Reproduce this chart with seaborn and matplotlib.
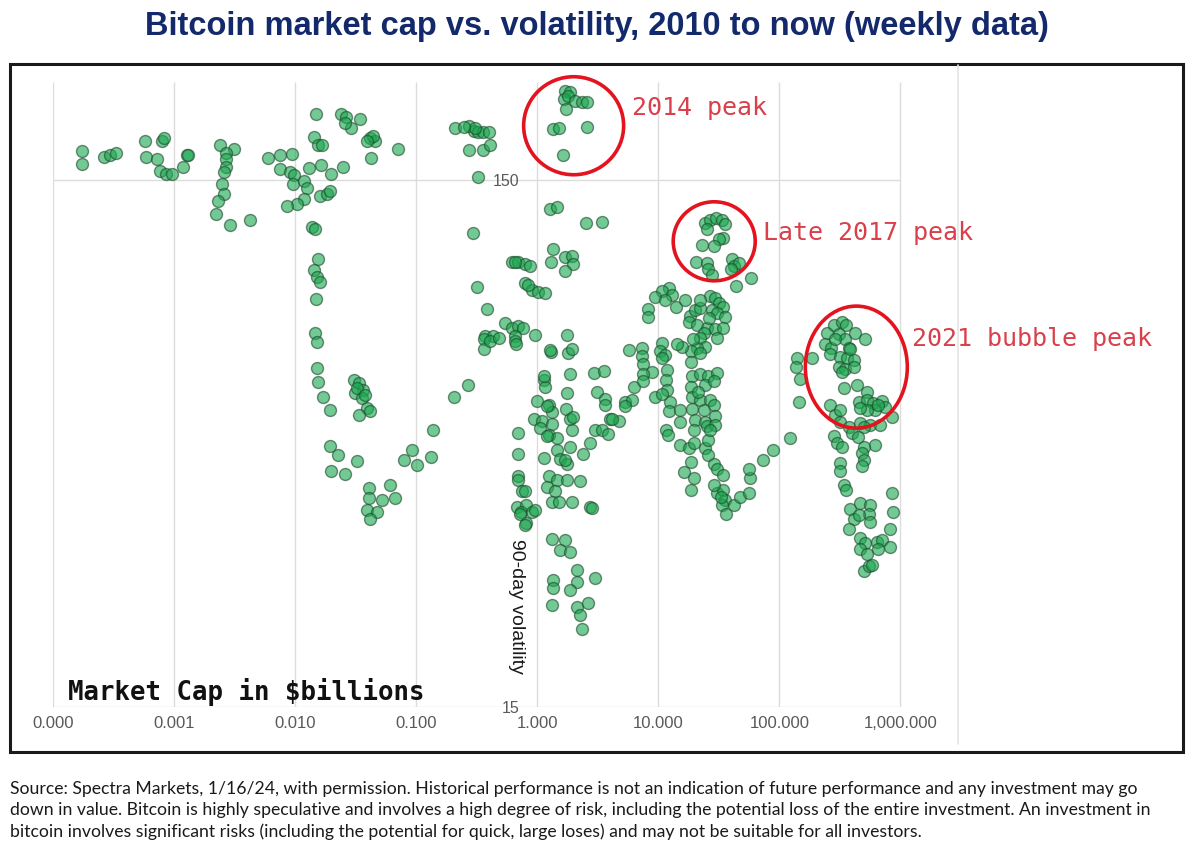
import numpy as np
import pandas as pd
import matplotlib
matplotlib.use('Agg')
import matplotlib.pyplot as plt
import matplotlib.transforms as mtransforms
from matplotlib.patches import Ellipse, Rectangle
from matplotlib.lines import Line2D
from matplotlib.ticker import NullLocator
import seaborn as sns

sns.set_style("white")
plt.rcParams['font.family'] = ['Liberation Sans', 'DejaVu Sans']

# ----------------------------------------------------------------------------
# Data: market cap ($bn) and 90-day volatility (%)
# ----------------------------------------------------------------------------
cap_early = [0.000175, 0.000175, 0.000264, 0.000296, 0.00033, 0.00057, 0.00059, 0.00072,
             0.00079, 0.00083, 0.00076, 0.00086, 0.00096, 0.00119, 0.00127, 0.00131,
             0.0024, 0.0031, 0.0027, 0.0027, 0.0027, 0.0026, 0.0025, 0.0026, 0.0023,
             0.0022, 0.0029, 0.0042, 0.006, 0.0075, 0.0094, 0.0075, 0.0091, 0.0097,
             0.0096, 0.0119, 0.0126, 0.0119, 0.0103, 0.0086, 0.0129, 0.0164, 0.0197,
             0.0251, 0.0161, 0.0183, 0.0195, 0.0149, 0.0144, 0.0156, 0.0166, 0.0238,
             0.0265, 0.0343, 0.0292, 0.026, 0.0412, 0.0458, 0.0427, 0.071, 0.044, 0.039]
vol_early = [170, 161, 166, 167, 169, 178, 166, 164,
             178, 180, 156, 154, 154, 159, 167, 167,
             175, 172, 169, 164, 159, 155, 147, 141, 137,
             129, 123, 126, 165, 167, 168, 157, 155, 153,
             147, 149, 145, 138, 135, 134, 158, 160, 154,
             159, 140, 141, 143, 200, 181, 175, 175, 200,
             197, 196, 188, 192, 180, 178, 165, 172, 182, 178]

cap_slump = [0.0137, 0.0146, 0.0156, 0.0142, 0.0151, 0.0161, 0.0149, 0.0146, 0.0153,
             0.0153, 0.0156, 0.0169, 0.0195, 0.0195, 0.0228, 0.0327, 0.0197, 0.0259,
             0.0404, 0.0404, 0.052, 0.061, 0.067, 0.0396, 0.0473, 0.0417, 0.0307,
             0.0334, 0.0367, 0.0313, 0.0356, 0.0396, 0.034, 0.0412, 0.0322, 0.038]
vol_slump = [122, 121, 106, 101, 98, 96, 89, 77, 74,
             66, 62, 58, 55, 47, 45, 44, 42, 41.5,
             39, 37.4, 37.1, 39.6, 37.4, 35.5, 35.2, 34.1, 62.7,
             61.8, 60, 59.1, 57.8, 55.4, 53.8, 54.6, 60.4, 58.7]

cap_runup = [0.080, 0.092, 0.102, 0.132, 0.139, 0.206, 0.270, 0.208, 0.273, 0.298,
             0.327, 0.36, 0.396, 0.275, 0.355, 0.409, 0.327, 0.294, 0.306, 0.25,
             1.70, 1.87, 1.67, 1.81, 2.06, 2.34, 2.57, 1.74, 1.35, 1.50, 2.57, 1.63,
             1.28, 1.45, 2.52, 3.43, 1.35, 1.30, 1.70, 1.94, 1.99, 1.70,
             0.618, 0.70, 0.79, 0.875, 0.79, 0.90, 1.02, 1.16, 0.66, 0.84,
             0.321, 0.384, 0.544, 0.618, 0.70, 0.77, 0.372, 0.435, 0.657, 0.964,
             1.76, 0.364, 0.364, 0.41, 0.48, 0.657, 0.67, 1.30, 1.81, 1.28, 1.94]
vol_runup = [44.2, 46, 43.1, 44.7, 50.4, 58.2, 61.3, 188, 190, 186,
             185, 184.5, 184.5, 171, 171, 175, 152, 119, 188, 189,
             221, 220, 214, 216, 212, 211, 211, 204, 187, 188, 189, 167.5,
             132, 133, 124, 125, 111, 105, 107, 107.5, 104, 100.6,
             105, 105, 103.7, 103, 95.7, 92.9, 91.8, 91.5, 105, 94.6,
             93.8, 85.5, 80.4, 78.7, 79.1, 78.4, 76, 76, 76, 76.3,
             76.3, 74.7, 71.5, 74.1, 75.2, 74.1, 73.1, 70.7, 70.5, 71.2, 71.5]

cap_bear = [1.13, 1.16, 0.99, 1.24, 1.32, 0.933, 1.09, 1.32, 1.24, 1.45, 1.13, 1.45,
            1.55, 1.76, 1.24, 1.45, 1.76, 1.20, 1.41, 1.32, 1.50, 1.13, 1.06, 1.20,
            1.20, 1.85, 1.76, 1.74, 1.87, 1.94, 1.87, 2.27, 1.94, 2.74, 1.97, 1.70,
            2.92, 3.53, 3.11, 3.65, 3.65, 4.01, 4.70, 5.34, 6.06, 3.02, 3.43, 3.88,
            2.74, 2.41, 2.83, 0.70, 0.70, 0.70, 0.688, 0.75, 0.68, 0.81, 0.74, 0.90,
            0.81, 0.79, 0.72, 0.96, 0.79, 1.32, 1.70, 1.55, 1.87, 2.13, 1.36, 1.36,
            2.13, 3.02, 1.87, 1.32, 2.13, 2.27, 2.65, 2.34]
vol_bear = [62.7, 60.6, 57.1, 56.2, 54.5, 52.8, 52.4, 51.6, 49.3, 48.6, 44.6, 46.1,
            44.4, 43.3, 41.2, 40.5, 40.5, 39.2, 38.5, 36.8, 36.8, 63.6, 50.8, 55.8,
            49, 64.1, 59.1, 55.1, 52.8, 50.4, 46.8, 40.2, 36.8, 36, 53.2, 44.2,
            64.6, 65.1, 59.4, 57.6, 56.2, 52.8, 52.4, 56.9, 57.3, 50.4, 50.4, 49.5,
            47.5, 45.3, 35.8, 49.7, 45.2, 41.2, 40.5, 38.5, 36, 36.3, 35.2, 35.2,
            33.5, 38.5, 34.8, 35.5, 33.2, 31.3, 31.1, 29.8, 29.5, 27.3, 26.1, 25.2,
            25.9, 26.4, 25, 23.4, 23.2, 22.4, 23.6, 21.1]

cap_2017 = [24.5, 26.9, 30.2, 33.6, 35.8, 25.5, 34.6, 31.5, 23.0, 28.7, 20.6, 25.5,
            26.0, 28.0, 40.7, 41.9, 46.1, 40.0, 44.0, 58.3, 12.2, 10.7, 12.9, 9.45,
            11.4, 13.9, 16.7, 8.16, 8.3, 18.4, 20.2, 22.2, 26.9, 29.6, 31.5, 34.6,
            28.0, 30.6, 35.8, 18.1, 20.9, 25.5, 29.6, 34.6, 23.7, 30.6, 22.2, 24.5,
            20.9, 18.8, 15.7, 18.8, 22.2, 10.7, 10.4, 11.4, 10.7, 11.8, 11.7, 11.8,
            12.6, 12.2, 11.7, 12.0, 15.2, 15.2, 22.2, 26.2, 19.5, 14.2, 5.68, 7.34,
            7.34, 7.55, 8.87, 7.55, 6.25, 7.55, 9.45, 10.7, 5.34, 4.15]
vol_2017 = [124, 126, 127, 126, 123.5, 121, 116.5, 115.7, 113, 112.4, 104.8, 104.5,
            101.4, 99.2, 106.3, 102.9, 104.5, 101.4, 94.2, 97.5, 93.7, 92.2, 90.8, 89.8,
            88.9, 86.2, 88.9, 85.5, 82.5, 82.9, 85.1, 85.7, 90.2, 89.6, 87.6, 86.2,
            85.1, 83.8, 82.3, 80.6, 79.4, 78.7, 78.2, 78.7, 77, 75.3, 75.1, 72.4,
            72, 71, 72.4, 67.8, 70.4, 73.5, 71, 69.9, 68.9, 65.5, 62.7, 60,
            56.9, 54.7, 50.4, 49.3, 55, 52.2, 88.9, 82.1, 74.7, 73.1, 71.3, 72.1,
            69.4, 67.2, 64.9, 64.1, 60.8, 62.2, 58.2, 58.9, 55.8, 52.8]

cap_2018 = [19.0, 22.2, 26.0, 30.6, 18.8, 24.5, 28.7, 19.0, 22.2, 26.9, 19.0, 23.7,
            28.7, 20.2, 24.5, 29.6, 19.6, 25.5, 29.6, 15.2, 17.8, 19.6, 24.5, 26.0,
            18.8, 26.0, 28.7, 30.6, 34.6, 16.2, 19.6, 18.8, 30.6, 34.6, 35.8, 33.4,
            36.6, 41.9, 47.6, 55.7, 56.9, 55.7, 21.4, 26.9, 32.8, 29.0, 74.0, 88.7, 123]
vol_2018 = [63.6, 64.1, 63.6, 64.6, 60.8, 61.3, 62.2, 58.2, 57.4, 57.4, 55.1, 55,
            56.2, 52.6, 52.2, 53.5, 50.4, 51.2, 51.5, 47.2, 46.4, 47.5, 46.4, 48.2,
            43.8, 45.1, 43.4, 42.5, 41.4, 41.9, 40.8, 38.7, 38.2, 38.7, 37.1, 36.3,
            34.9, 36.3, 37.6, 38.2, 40.8, 42.5, 59.4, 50.4, 37.6, 39.6, 44.2, 46.1, 48.6]

cap_2021 = [140, 137, 147, 145, 186, 248, 281, 330, 358, 309, 240, 268, 350, 425,
            514, 374, 262, 320, 362, 412, 309, 350, 412, 330, 290, 387, 340, 439,
            531, 455, 531, 600, 706, 750, 621, 531, 467, 855, 262, 290, 320, 374,
            467, 562, 676, 399, 497, 281, 300, 330, 621, 497, 481, 497, 481, 320,
            320, 340, 358, 855, 870, 827, 386, 467, 562, 547, 412, 455, 562, 374,
            467, 514, 642, 706, 827, 467, 531, 655, 497, 547, 580, 660, 445, 320]
vol_2021 = [68.9, 66.3, 62.9, 56.8, 68.9, 77, 79.4, 80.6, 79.7, 76.4, 73.1, 72.1, 74.8, 77,
            74.8, 72.1, 70.2, 69.1, 68.9, 68.4, 66.3, 65.8, 66.3, 64.9, 74.7, 71.5, 60.4, 61.1,
            59.5, 56.9, 57.4, 56.6, 57, 55.7, 55, 55, 55.4, 53.3, 56.2, 53.8, 52.2, 51,
            51.8, 51.5, 51.5, 49.7, 50.9, 48.9, 47.5, 46.8, 47.2, 46.8, 45.4, 44.2, 42.9, 43.5,
            42, 39.6, 38.7, 38.2, 35.2, 32.7, 35.6, 36.6, 36.3, 34.9, 34.1, 34.7, 33.6, 32.6,
            31.4, 30.7, 30.9, 31.1, 30.2, 29.9, 29.3, 29.9, 27.2, 27.8, 27.9, 56.2, 48.7, 55]

x_ticks = [0.0001, 0.001, 0.01, 0.1, 1, 10, 100, 1000]
x_tick_labels = ['0.000', '0.001', '0.010', '0.100', '1.000', '10.000', '100.000', '1,000.000']
y_ticks = [15, 150]
y_tick_labels = ['15', '150']

peak_labels = ['2014 peak', 'Late 2017 peak', '2021 bubble peak']

df = pd.DataFrame({
    'market_cap': np.concatenate([cap_early, cap_slump, cap_runup, cap_bear,
                                  cap_2017, cap_2018, cap_2021]),
    'volatility': np.concatenate([vol_early, vol_slump, vol_runup, vol_bear,
                                  vol_2017, vol_2018, vol_2021]),
})

# ----------------------------------------------------------------------------
# Figure
# ----------------------------------------------------------------------------
fig = plt.figure(figsize=(12, 8.64), dpi=100)
ax = fig.add_axes([0.0442, 0.1817, 0.7542, 0.7234])
ax.set_xscale('log')
ax.set_yscale('log')
ax.set_xlim(1e-4, 3000)
ax.set_ylim(15, 230)

# light grid, only over the 0.0001 .. 1000 range
grid_col = '#DCDCDC'
ax.vlines(x_ticks, 15, 230, colors=grid_col, linewidth=1, zorder=0)
ax.hlines(y_ticks, x_ticks[0], x_ticks[-1], colors=grid_col, linewidth=1, zorder=0)

sns.scatterplot(data=df, x='market_cap', y='volatility', ax=ax,
                s=74, color='#1DA851', alpha=0.62,
                edgecolor='#1E4A2E', linewidth=1.0, zorder=3, legend=False)

# axes cosmetics: y axis crosses at market cap = 1
for side in ['top', 'right', 'bottom']:
    ax.spines[side].set_visible(False)
ax.spines['left'].set_position(('data', 1.0))
ax.spines['left'].set_color('none')

ax.set_xticks(x_ticks)
ax.set_xticklabels(x_tick_labels)
ax.set_yticks(y_ticks)
ax.set_yticklabels(y_tick_labels)
ax.xaxis.set_minor_locator(NullLocator())
ax.yaxis.set_minor_locator(NullLocator())
ax.tick_params(axis='x', length=0, pad=6.5, labelsize=12, labelcolor='#595959')
ax.tick_params(axis='y', length=0, pad=13, labelsize=11.5, labelcolor='#595959')

ax.set_xlabel('')
ax.set_ylabel('90-day volatility', rotation=270, fontsize=14, color='#1a1a1a',
              va='center', ha='center')
ax.yaxis.set_label_coords(0.5116, 0.1616)

ax.text(0.0166, 0.024, 'Market Cap in $billions', transform=ax.transAxes,
        family='DejaVu Sans Mono', fontweight='bold', fontsize=18.5,
        color='#111111', va='center', ha='left')

# red rings around the three peaks (centre in data units, size in inches)
ring_centres = [(2.0, 190), (29, 114.7), (433, 66.2)]
ring_sizes = [(1.0, 0.98), (0.82, 0.79), (1.02, 1.22)]
label_pos = [(6.1, 205), (73.7, 118.7), (1260, 74.7)]
for (cx, cy), (w, h), (tx, ty), lab in zip(ring_centres, ring_sizes, label_pos, peak_labels):
    trans = fig.dpi_scale_trans + mtransforms.ScaledTranslation(cx, cy, ax.transData)
    ring = Ellipse((0, 0), w, h, transform=trans, fill=False,
                   edgecolor='#E3141F', linewidth=2.6, zorder=5)
    ring.set_clip_on(False)
    fig.add_artist(ring)
    ax.text(tx, ty, lab, family='DejaVu Sans Mono', fontsize=18,
            color='#D9404B', va='center', ha='left', clip_on=False)

# title, frame and footnote
fig.text(0.4975, 0.969, 'Bitcoin market cap vs. volatility, 2010 to now (weekly data)',
         ha='center', va='center', fontsize=23.5, fontweight='bold', color='#13296B')

fig.add_artist(Rectangle((10 / 1200, 112 / 864), 1173 / 1200, 688 / 864,
                         transform=fig.transFigure, fill=False,
                         edgecolor='#1a1a1a', linewidth=2.2))
fig.add_artist(Line2D([958 / 1200, 958 / 1200], [120 / 864, 799 / 864],
                      transform=fig.transFigure, color='#E4E4E4', linewidth=1.2))

footnote = [
    'Source: Spectra Markets, 1/16/24, with permission. Historical performance is not an indication '
    'of future performance and any investment may go',
    'down in value. Bitcoin is highly speculative and involves a high degree of risk, including the '
    'potential loss of the entire investment. An investment in',
    'bitcoin involves significant risks (including the potential for quick, large loses) and may not '
    'be suitable for all investors.',
]
for i, line in enumerate(footnote):
    fig.text(0.0085, (864 - 789 - 21.5 * i) / 864, line, ha='left', va='center',
             fontsize=12.7, family='Lato', color='#1a1a1a')

fig.savefig('out.png', dpi=100)
plt.close(fig)
